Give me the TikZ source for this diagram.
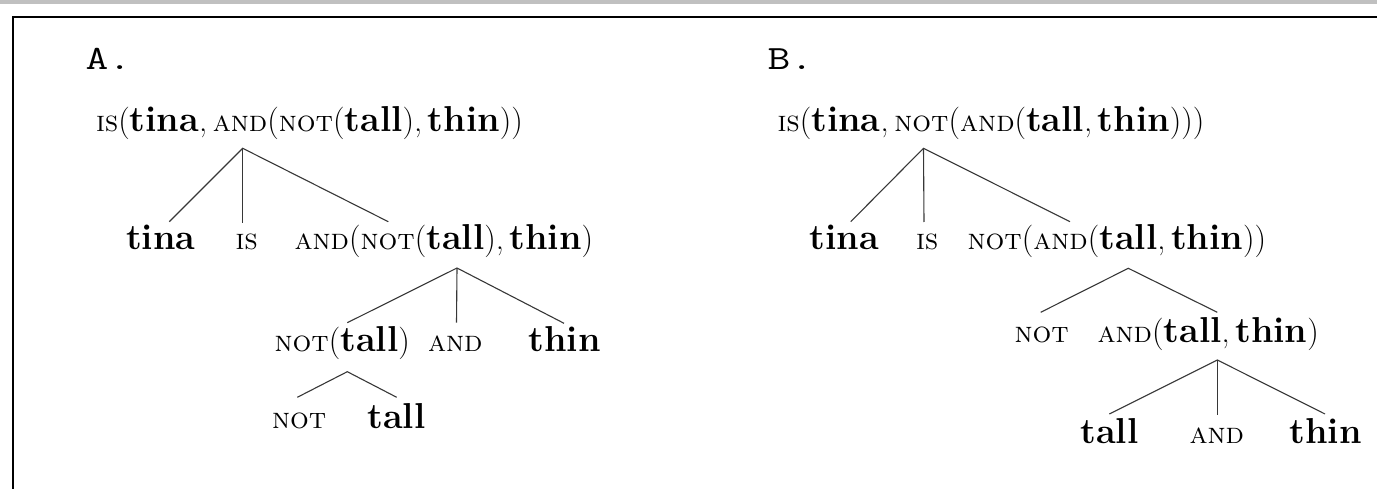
\documentclass[tikz,border=0pt]{standalone}
\usepackage{fontspec}
\usepackage{graphicx}
\definecolor{barcol}{RGB}{192,192,192}
\definecolor{edgecol}{RGB}{55,55,55}
\newcommand{\myb}[1]{{\fontsize{36}{40}\selectfont\bfseries #1}}
\newcommand{\myk}[1]{{\fontsize{29.5}{32}\selectfont\scshape #1}}
\newcommand{\myl}{{\fontsize{32.5}{36}\selectfont(}}
\newcommand{\myr}{{\fontsize{32.5}{36}\selectfont)}}
\newcommand{\myc}{{\fontsize{32.5}{36}\selectfont,\hspace{0.17em}}}
\newcommand{\myhead}[1]{\scalebox{1.3}[1]{\ttfamily\fontsize{34}{38}\selectfont #1}}
\tikzset{
  lbl/.style={anchor=base west, inner sep=0pt, outer sep=0pt},
  head/.style={anchor=base west, inner sep=0pt},
  edge/.style={draw=edgecol, line width=1.1pt},
  frame/.style={draw=black, line width=2.3pt}
}
\begin{document}
\begin{tikzpicture}[x=1pt,y=-1pt]
\useasboundingbox (0,0) rectangle (1377,489);
\fill[barcol] (0,0) rectangle (1377,4.5);
\coordinate (fr1) at (1377,17);
\coordinate (fr2) at (12.8,17);
\coordinate (fr3) at (12.8,489);
\draw[frame] (fr1) -- (fr2) -- (fr3);

% ---------- A ----------
\node[head] (la) at (85.5,70) {\myhead{A.}};
\node[lbl] (ra) at (96,132) {\myk{is}\myl\myb{tina}\myc\myk{and}\myl\myk{not}\myl\myb{tall}\myr\myc\myb{thin}\myr\myr};
\node[lbl] (a1) at (126,250) {\myb{tina}};
\node[lbl] (a2) at (235.5,250) {\myk{is}};
\node[lbl] (a3) at (294.5,250) {\myk{and}\myl\myk{not}\myl\myb{tall}\myr\myc\myb{thin}\myr};
\node[lbl] (a31) at (274.5,352) {\myk{not}\myl\myb{tall}\myr};
\node[lbl] (a32) at (428,352) {\myk{and}};
\node[lbl] (a33) at (528.5,352) {\myb{thin}};
\node[lbl] (a311) at (272,428.5) {\myk{not}};
\node[lbl] (a312) at (367.5,428.5) {\myb{tall}};

\coordinate (pa) at (242.7,148.3);
\coordinate (ca1) at (169.3,221.7);
\coordinate (ca2) at (242.7,222.7);
\coordinate (ca3) at (388.3,221.7);
\draw[edge] (ca1) -- (pa) -- (ca3);
\draw[edge] (pa) -- (ca2);

\coordinate (pa3) at (457,268);
\coordinate (ca31) at (347.3,322.7);
\coordinate (ca32) at (456.5,322.7);
\coordinate (ca33) at (564,323.3);
\draw[edge] (ca31) -- (pa3) -- (ca33);
\draw[edge] (pa3) -- (ca32);

\coordinate (pa31) at (347.3,371.7);
\coordinate (ca311) at (297.3,397.3);
\coordinate (ca312) at (396.7,397.3);
\draw[edge] (ca311) -- (pa31) -- (ca312);

% ---------- B ----------
\node[head] (lb) at (767.5,70) {\myhead{B.}};
\node[lbl] (rb) at (777.5,132) {\myk{is}\myl\myb{tina}\myc\myk{not}\myl\myk{and}\myl\myb{tall}\myc\myb{thin}\myr\myr\myr};
\node[lbl] (b1) at (809.5,250) {\myb{tina}};
\node[lbl] (b2) at (916,250) {\myk{is}};
\node[lbl] (b3) at (967.5,250) {\myk{not}\myl\myk{and}\myl\myb{tall}\myc\myb{thin}\myr\myr};
\node[lbl] (b31) at (1014.5,342) {\myk{not}};
\node[lbl] (b32) at (1097.5,342) {\myk{and}\myl\myb{tall}\myc\myb{thin}\myr};
\node[lbl] (b321) at (1080.5,443.5) {\myb{tall}};
\node[lbl] (b322) at (1189.5,443.5) {\myk{and}};
\node[lbl] (b323) at (1289.5,443.5) {\myb{thin}};

\coordinate (pb) at (923.5,148.3);
\coordinate (cb1) at (850.7,221.7);
\coordinate (cb2) at (924,222);
\coordinate (cb3) at (1070,221.7);
\draw[edge] (cb1) -- (pb) -- (cb3);
\draw[edge] (pb) -- (cb2);

\coordinate (pb3) at (1128.3,268.3);
\coordinate (cb31) at (1040.7,312.3);
\coordinate (cb32) at (1217.3,312.3);
\draw[edge] (cb31) -- (pb3) -- (cb32);

\coordinate (pb32) at (1217.3,360);
\coordinate (cb321) at (1109.3,414);
\coordinate (cb322) at (1217.3,415);
\coordinate (cb323) at (1325,414);
\draw[edge] (cb321) -- (pb32) -- (cb323);
\draw[edge] (pb32) -- (cb322);
\end{tikzpicture}
\end{document}
